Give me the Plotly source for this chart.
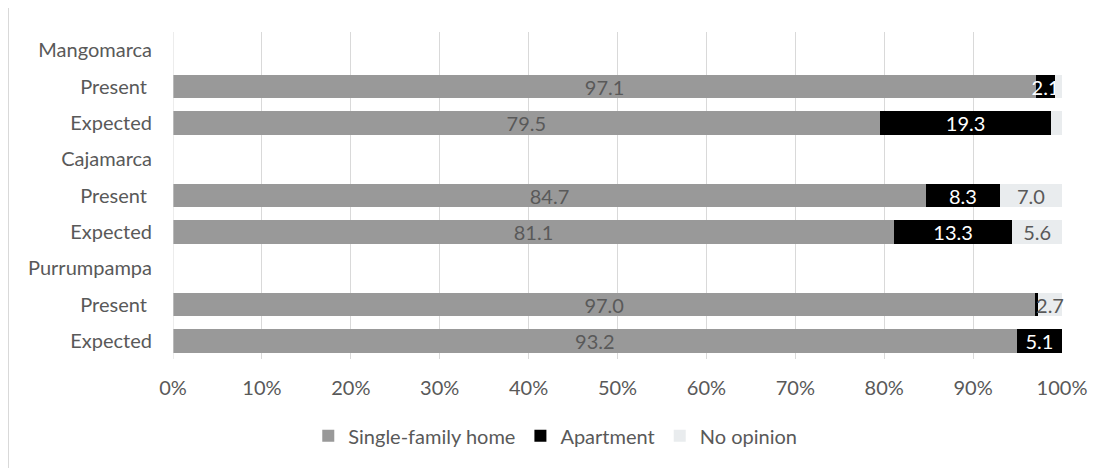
import plotly.graph_objects as go

# rows from top to bottom; group headers have no bars
categories = ['Mangomarca', 'Present\u00a0', 'Expected',
              'Cajamarca', 'Present\u00a0', 'Expected',
              'Purrumpampa', 'Present\u00a0', 'Expected']

single_family = [None, 97.1, 79.5, None, 84.7, 81.1, None, 97.0, 94.9]
apartment = [None, 2.1, 19.3, None, 8.3, 13.3, None, 0.3, 5.1]
no_opinion = [None, 0.8, 1.2, None, 7.0, 5.6, None, 2.7, 0.0]

# labels as printed on the chart
single_family_labels = ['', '97.1', '79.5', '', '84.7', '81.1', '', '97.0', '93.2']
apartment_labels = ['', '2.1', '19.3', '', '8.3', '13.3', '', '', '5.1']
no_opinion_labels = ['', '', '', '', '7.0', '5.6', '', '2.7', '']

x_ticks = [0, 10, 20, 30, 40, 50, 60, 70, 80, 90, 100]

FONT = 'Lato'
TXT = '#595959'
SIZE = 20
rows = list(range(len(categories)))

fig = go.Figure()
series = [
    ('Single-family home', single_family, single_family_labels, '#999999', TXT),
    ('Apartment', apartment, apartment_labels, '#000000', '#ffffff'),
    ('No opinion', no_opinion, no_opinion_labels, '#e9ecee', TXT),
]
for name, vals, labels, color, tcolor in series:
    fig.add_trace(go.Bar(
        y=rows, x=vals, name=name, orientation='h',
        marker=dict(color=color, line=dict(width=0)),
        text=labels, textposition='inside', insidetextanchor='middle',
        textangle=0,
        textfont=dict(color=tcolor, size=SIZE, family=FONT),
        cliponaxis=False,
    ))

# page body adds 8px, margins below are set to put the plot at x 173-1062, y 32-359
fig.update_layout(
    barmode='stack',
    bargap=0.34,
    width=1106, height=468,
    margin=dict(l=165, r=52, t=24, b=117),
    paper_bgcolor='white', plot_bgcolor='white',
    font=dict(family=FONT, size=SIZE, color=TXT),
    uniformtext=dict(minsize=SIZE, mode='show'),
    legend=dict(orientation='h', x=0.43, xanchor='center', y=-0.235, yanchor='middle',
                font=dict(size=SIZE, color=TXT), traceorder='normal',
                itemwidth=30),
    xaxis=dict(range=[0, 100], tickvals=x_ticks, ticktext=[f'{t}%' for t in x_ticks],
               showgrid=True, gridcolor='#d9d9d9', gridwidth=1, zeroline=False,
               ticks='', showline=False, ticklabelstandoff=15),
    yaxis=dict(tickvals=rows, ticktext=categories, range=[8.5, -0.5],
               showgrid=False, zeroline=False, ticks='', showline=False,
               ticklabelstandoff=20),
    shapes=[dict(type='rect', xref='paper', yref='paper',
                 x0=(8 - 173) / 889, x1=(1120 - 173) / 889,
                 y0=(359 - 480) / 327, y1=1 + (32 - 4) / 327,
                 line=dict(color='#d9d9d9', width=2), layer='below')],
)
fig.add_vline(x=0, line=dict(color='#d9d9d9', width=1))

fig.write_html('out.html')
